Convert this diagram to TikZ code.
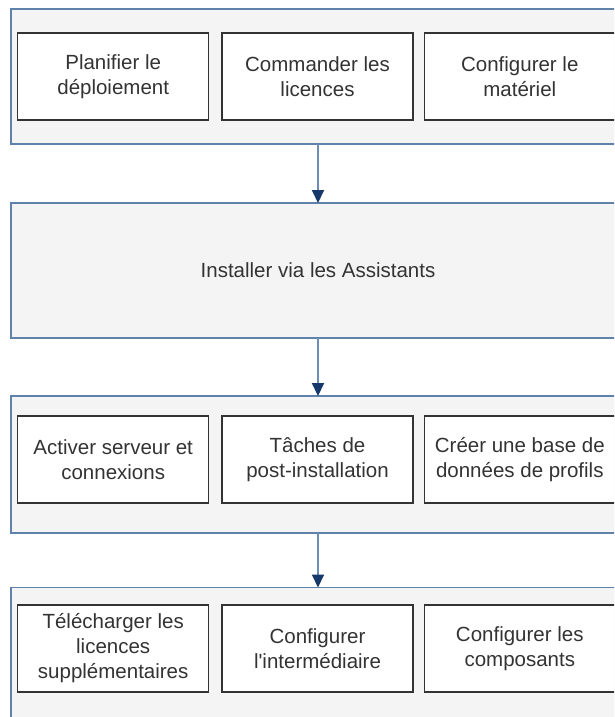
\documentclass[tikz,border=0pt]{standalone}
\usepackage{fontspec}
\setmainfont{Liberation Sans}
\usetikzlibrary{arrows.meta,positioning}
\definecolor{cadre}{HTML}{5F82AA}
\definecolor{fondcadre}{HTML}{F4F4F4}
\definecolor{fleche}{HTML}{6C8DB4}
\definecolor{pointe}{HTML}{17386A}
\definecolor{texte}{HTML}{333333}

\begin{document}
\begin{tikzpicture}[x=1pt, y=-1pt,
        line join=miter,
        etiquette/.style={text=texte, font=\fontsize{20.5}{25}\selectfont},
        phase/.style={etiquette, draw=cadre, line width=1.8pt, fill=fondcadre,
                minimum width=614pt, minimum height=135pt, inner sep=0pt, outer sep=0pt},
        tache/.style={etiquette, draw=black!80, line width=1.3pt, fill=white,
                minimum width=191pt, minimum height=87pt, inner sep=0pt, align=center},
        flow/.style={draw=fleche, line width=2pt,
                -{Triangle[width=12pt,length=13pt,color=pointe]}}]
        \useasboundingbox (0,0) rectangle (614,717);
        \clip (0,0) rectangle (614,717);

        % PHASES
        \node[phase] (phase1) at (318,76.5) {};
        \node[phase] (phase2) at (318,270.5) {Installer via les Assistants};
        \node[phase, minimum height=137pt] (phase3) at (318,464.5) {};
        \node[phase] (phase4) at (318,655) {};

        % TACHES
        \node[tache] (commander) at (317.5,76.5) {Commander les\\licences};
        \node[tache, left=12pt of commander] (planifier) {Planifier le\\déploiement};
        \node[tache, right=10pt of commander] (materiel) {Configurer le\\matériel};

        \node[tache] (postinstall) at (317.5,459.5) {Tâches de\\post-installation};
        \node[tache, left=12pt of postinstall] (activer) {Activer serveur et\\connexions};
        \node[tache, right=10pt of postinstall] (profils) {Créer une base de\\données de profils};

        \node[tache] (intermediaire) at (317.5,648.5) {Configurer\\l\textquotesingle intermédiaire};
        \node[tache, left=12pt of intermediaire] (telecharger) {Télécharger les\\licences\\supplémentaires};
        \node[tache, right=10pt of intermediaire] (composants) {Configurer les\\composants};

        % FLECHES
        \draw[flow] (phase1.south) -- (phase2.north);
        \draw[flow] (phase2.south) -- (phase3.north);
        \draw[flow] (phase3.south) -- (phase4.north);
\end{tikzpicture}
\end{document}
